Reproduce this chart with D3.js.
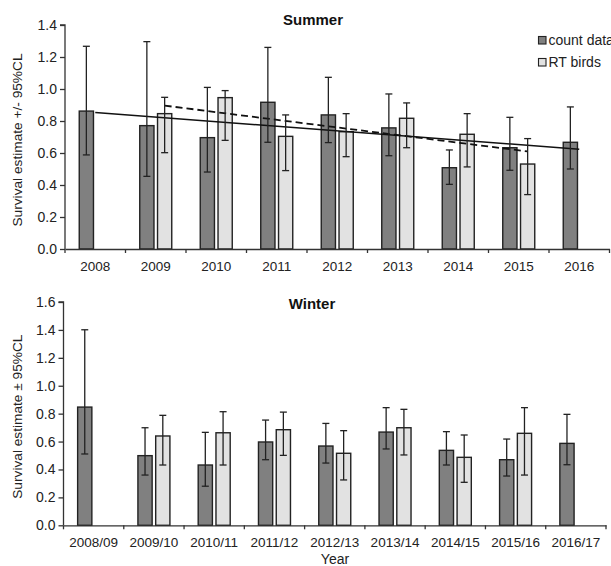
<!DOCTYPE html>
<html>
<head>
<meta charset="utf-8">
<script src="https://cdn.jsdelivr.net/npm/d3@7"></script>
<style>
  body { margin: 0; background: #fff; }
  svg { font-family: "Liberation Sans", Arial, sans-serif; display: block; }
</style>
</head>
<body>
<svg width="611" height="566"></svg>
<script>
// summer data
const summerYears = ["2008", "2009", "2010", "2011", "2012", "2013", "2014", "2015", "2016"];
const summerCount = [0.862, 0.771, 0.696, 0.917, 0.838, 0.757, 0.508, 0.633, 0.667];
const summerCountLow = [0.588, 0.454, 0.481, 0.667, 0.665, 0.583, 0.404, 0.492, 0.500];
const summerCountHigh = [1.267, 1.296, 1.010, 1.260, 1.073, 0.969, 0.619, 0.823, 0.888];
const summerRT = [null, 0.846, 0.946, 0.704, 0.733, 0.817, 0.717, 0.531, null];
const summerRTLow = [null, 0.602, 0.679, 0.490, 0.577, 0.633, 0.513, 0.340, null];
const summerRTHigh = [null, 0.948, 0.990, 0.838, 0.846, 0.913, 0.846, 0.690, null];
// trend lines (start / end)
const trendCount = [{ cat: "2008", v: 0.853 }, { cat: "2016", v: 0.624 }];
const trendRT = [{ cat: "2009", v: 0.896 }, { cat: "2015", v: 0.610 }];

// winter data
const winterYears = ["2008/09", "2009/10", "2010/11", "2011/12", "2012/13", "2013/14", "2014/15", "2015/16", "2016/17"];
const winterCount = [0.847, 0.499, 0.432, 0.597, 0.568, 0.668, 0.537, 0.470, 0.587];
const winterCountLow = [0.511, 0.360, 0.280, 0.470, 0.446, 0.547, 0.432, 0.353, 0.434];
const winterCountHigh = [1.401, 0.699, 0.666, 0.754, 0.730, 0.843, 0.671, 0.618, 0.795];
const winterRT = [null, 0.640, 0.663, 0.685, 0.516, 0.699, 0.487, 0.659, null];
const winterRTLow = [null, 0.432, 0.432, 0.501, 0.325, 0.504, 0.308, 0.360, null];
const winterRTHigh = [null, 0.788, 0.814, 0.811, 0.678, 0.831, 0.647, 0.843, null];

const yTicksSummer = [0, 0.2, 0.4, 0.6, 0.8, 1.0, 1.2, 1.4];
const yTicksWinter = [0, 0.2, 0.4, 0.6, 0.8, 1.0, 1.2, 1.4, 1.6];
const seriesNames = ["count data", "RT birds"];

const svg = d3.select("svg");
const countFill = "#808080";
const rtFill = "#e2e2e2";
const darkStroke = "#222";

function drawPanel(opt) {
  const g = svg.append("g");

  const x = d3.scaleBand().domain(opt.cats).range([opt.left, opt.right]);
  const sub = d3.scaleBand().domain(["count", "rt"]).range([-16, 16]).paddingInner(0.2);
  const y = d3.scaleLinear().domain([0, opt.yMax]).range([opt.bottom, opt.top]);
  const mid = d => x(d) + x.bandwidth() / 2;

  // rows for bars
  const rows = [];
  opt.cats.forEach((c, i) => {
    rows.push({ cat: c, key: "count", v: opt.count[i], lo: opt.countLow[i], hi: opt.countHigh[i] });
    if (opt.rt[i] != null) rows.push({ cat: c, key: "rt", v: opt.rt[i], lo: opt.rtLow[i], hi: opt.rtHigh[i] });
  });

  // y axis
  const yAxis = g.append("g")
    .attr("transform", `translate(${opt.left},0)`)
    .call(d3.axisLeft(y).tickValues(opt.yTicks).tickFormat(d3.format(".1f")).tickSize(5).tickPadding(3));
  yAxis.selectAll("text").attr("font-size", 14).attr("fill", "#222").attr("font-family", null);
  yAxis.selectAll("line, path").attr("stroke", "#333").attr("stroke-width", 1.3);
  yAxis.select(".domain").attr("d", `M-5,${opt.top}H0V${opt.bottom}`);

  // bars
  g.selectAll("rect.bar").data(rows).join("rect")
    .attr("class", "bar")
    .attr("x", d => mid(d.cat) + sub(d.key))
    .attr("y", d => y(d.v))
    .attr("width", sub.bandwidth())
    .attr("height", d => y(0) - y(d.v))
    .attr("fill", d => d.key === "count" ? countFill : rtFill)
    .attr("stroke", darkStroke)
    .attr("stroke-width", 1.4);

  // x axis (labels at centres, ticks at the band edges)
  const xAxis = g.append("g")
    .attr("transform", `translate(0,${opt.bottom})`)
    .call(d3.axisBottom(x).tickSize(0).tickPadding(12));
  xAxis.selectAll("text").attr("font-size", 13.5).attr("fill", "#222").attr("font-family", null);
  xAxis.select(".domain").attr("stroke", "#333").attr("stroke-width", 1.3);
  const edges = opt.cats.map(c => x(c)).concat([opt.right]);
  g.selectAll("line.edge").data(edges).join("line")
    .attr("class", "edge")
    .attr("x1", d => d).attr("x2", d => d)
    .attr("y1", opt.bottom).attr("y2", opt.bottom + 4)
    .attr("stroke", "#333").attr("stroke-width", 1.3);

  // trend lines
  if (opt.trends) {
    opt.trends.forEach(t => {
      const line = d3.line()
        .x(d => mid(d.cat) + (t.key === "rt" ? sub("rt") + sub.bandwidth() / 2 : 0))
        .y(d => y(d.v));
      g.append("path")
        .attr("d", line(t.data))
        .attr("fill", "none")
        .attr("stroke", "#111")
        .attr("stroke-width", t.dash ? 1.8 : 1.5)
        .attr("stroke-dasharray", t.dash ? "7,4" : null);
    });
  }

  // error bars
  const eb = g.selectAll("g.err").data(rows).join("g").attr("class", "err")
    .attr("transform", d => `translate(${mid(d.cat) + sub(d.key) + sub.bandwidth() / 2},0)`)
    .attr("stroke", darkStroke).attr("stroke-width", 1.3);
  eb.append("line").attr("y1", d => y(d.lo)).attr("y2", d => y(d.hi));
  eb.append("line").attr("x1", -3.5).attr("x2", 3.5).attr("y1", d => y(d.hi)).attr("y2", d => y(d.hi));
  eb.append("line").attr("x1", -3.5).attr("x2", 3.5).attr("y1", d => y(d.lo)).attr("y2", d => y(d.lo));

  // title
  g.append("text")
    .attr("x", opt.titleX).attr("y", opt.titleY)
    .attr("text-anchor", "middle")
    .attr("font-size", 15).attr("font-weight", "bold").attr("fill", "#111")
    .text(opt.title);

  // y label
  g.append("text")
    .attr("transform", `translate(22,${(opt.top + opt.bottom) / 2 + 3}) rotate(-90)`)
    .attr("text-anchor", "middle")
    .attr("font-size", 13.7).attr("fill", "#222")
    .text(opt.yLabel);
}

drawPanel({
  cats: summerYears, count: summerCount, countLow: summerCountLow, countHigh: summerCountHigh,
  rt: summerRT, rtLow: summerRTLow, rtHigh: summerRTHigh,
  yMax: 1.4, yTicks: yTicksSummer,
  left: 65, right: 609.5, top: 25, bottom: 249,
  title: "Summer", titleX: 313, titleY: 25,
  yLabel: "Survival estimate +/- 95%CL",
  trends: [{ key: "count", data: trendCount, dash: false }, { key: "rt", data: trendRT, dash: true }]
});

drawPanel({
  cats: winterYears, count: winterCount, countLow: winterCountLow, countHigh: winterCountHigh,
  rt: winterRT, rtLow: winterRTLow, rtHigh: winterRTHigh,
  yMax: 1.6, yTicks: yTicksWinter,
  left: 63.5, right: 606, top: 302, bottom: 525.3,
  title: "Winter", titleX: 312, titleY: 309,
  yLabel: "Survival estimate \u00b1 95%CL"
});

// x axis title
svg.append("text")
  .attr("x", 335).attr("y", 564)
  .attr("text-anchor", "middle")
  .attr("font-size", 14).attr("fill", "#222")
  .text("Year");

// legend
const legend = svg.append("g").attr("transform", "translate(538,36)");
seriesNames.forEach((name, i) => {
  legend.append("rect")
    .attr("x", 0.5).attr("y", i * 22 + 0.5)
    .attr("width", 7.5).attr("height", 7.5)
    .attr("fill", i === 0 ? countFill : rtFill)
    .attr("stroke", darkStroke).attr("stroke-width", 1.1);
  legend.append("text")
    .attr("x", 10.5).attr("y", i * 22 + 8.8)
    .attr("font-size", 14).attr("fill", "#222")
    .text(name);
});
</script>
</body>
</html>
